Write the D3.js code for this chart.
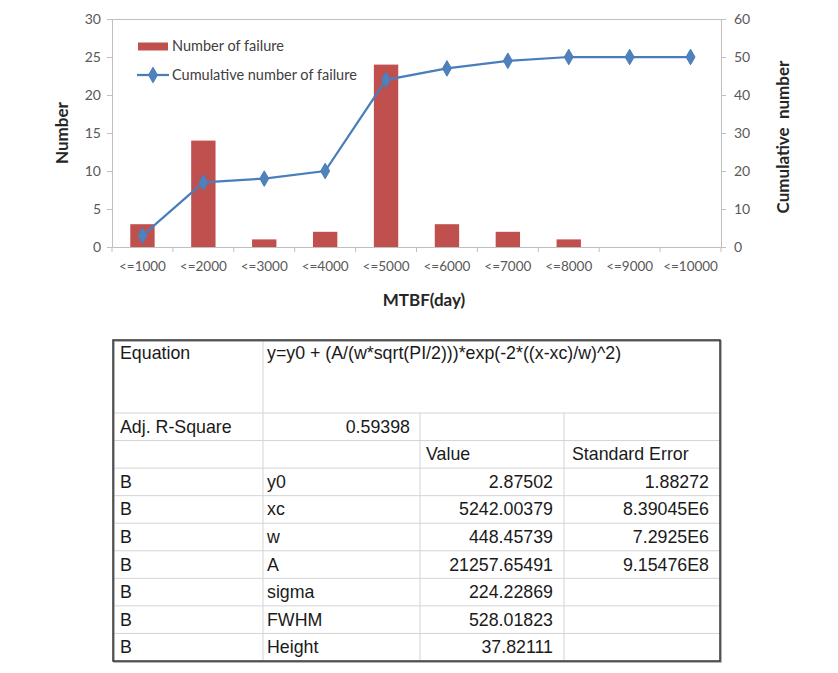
<!DOCTYPE html>
<html>
<head>
<meta charset="utf-8">
<script src="https://cdn.jsdelivr.net/npm/d3@7"></script>
<style>
  body { margin: 0; background: #fff; }
  svg { display: block; }
</style>
</head>
<body>
<svg id="chart" width="838" height="673"></svg>
<script>
// chart data
const categories = ["<=1000", "<=2000", "<=3000", "<=4000", "<=5000", "<=6000", "<=7000", "<=8000", "<=9000", "<=10000"];
const failures = [3, 14, 1, 2, 24, 3, 2, 1, 0, 0];
const cumulative = [3, 17, 18, 20, 44, 47, 49, 50, 50, 50];
const leftTicks = [0, 5, 10, 15, 20, 25, 30];
const rightTicks = [0, 10, 20, 30, 40, 50, 60];

// fit table data
const equationRow = ["Equation", "y=y0 + (A/(w*sqrt(PI/2)))*exp(-2*((x-xc)/w)^2)"];
const adjRow = ["Adj. R-Square", "0.59398", "", ""];
const headerRow = ["", "", "Value", "Standard Error"];
const paramNames = ["y0", "xc", "w", "A", "sigma", "FWHM", "Height"];
const paramValues = ["2.87502", "5242.00379", "448.45739", "21257.65491", "224.22869", "528.01823", "37.82111"];
const paramErrors = ["1.88272", "8.39045E6", "7.2925E6", "9.15476E8", "", "", ""];

document.addEventListener("DOMContentLoaded", function() {
    const svg = d3.select("#chart");
    drawChart(svg);
    drawTable(svg);

    function drawChart(svg) {
        const left = 112, right = 721, top = 19, bottom = 247;
        const axisColor = "#bfbfbf";
        const textColor = "#595959";

        const x = d3.scaleBand().domain(categories).range([left, right]);
        const yLeft = d3.scaleLinear().domain([0, 30]).range([bottom, top]);
        const yRight = d3.scaleLinear().domain([0, 60]).range([bottom, top]);

        const g = svg.append("g");

        // plot frame top line
        g.append("line")
            .attr("x1", left).attr("x2", right)
            .attr("y1", top + 0.5).attr("y2", top + 0.5)
            .attr("stroke", axisColor);

        // left axis
        const la = g.append("g")
            .attr("transform", "translate(" + left + ",0)")
            .call(d3.axisLeft(yLeft).tickValues(leftTicks).tickSize(5).tickPadding(6));
        // right axis
        const ra = g.append("g")
            .attr("transform", "translate(" + right + ",0)")
            .call(d3.axisRight(yRight).tickValues(rightTicks).tickSize(5).tickPadding(8));
        // bottom axis, ticks between categories
        const ba = g.append("g")
            .attr("transform", "translate(0," + bottom + ")")
            .call(d3.axisBottom(x).tickSize(0).tickPadding(14));
        ba.selectAll(".sep")
            .data(d3.range(categories.length + 1))
            .enter().append("line")
            .attr("class", "sep")
            .attr("x1", i => left + i * x.step()).attr("x2", i => left + i * x.step())
            .attr("y1", 0).attr("y2", 5)
            .attr("stroke", axisColor);

        [la, ra, ba].forEach(a => {
            a.select(".domain").attr("stroke", axisColor);
            a.selectAll(".tick line").attr("stroke", axisColor);
            a.selectAll("text")
                .attr("fill", textColor)
                .style("font-family", "Lato, 'Open Sans', sans-serif")
                .style("font-size", "14px");
        });
        ba.selectAll("text").style("font-size", "13.5px");

        // bars
        const barW = x.bandwidth() * 0.4;
        g.selectAll(".bar")
            .data(failures)
            .enter().append("rect")
            .attr("class", "bar")
            .attr("x", (d, i) => x(categories[i]) + (x.bandwidth() - barW) / 2)
            .attr("y", d => yLeft(d))
            .attr("width", barW)
            .attr("height", d => bottom - yLeft(d))
            .attr("fill", "#c0504d");

        // cumulative line
        const line = d3.line()
            .x((d, i) => x(categories[i]) + x.bandwidth() / 2)
            .y(d => yRight(d));
        g.append("path")
            .datum(cumulative)
            .attr("d", line)
            .attr("fill", "none")
            .attr("stroke", "#4a7ebb")
            .attr("stroke-width", 2.25);

        const diamond = d3.symbol().type(d3.symbolDiamond).size(70);
        g.selectAll(".pt")
            .data(cumulative)
            .enter().append("path")
            .attr("class", "pt")
            .attr("d", diamond)
            .attr("transform", (d, i) => "translate(" + (x(categories[i]) + x.bandwidth() / 2) + "," + yRight(d) + ")")
            .attr("fill", "#4f81bd")
            .attr("stroke", "#4a7ebb");

        // legend
        const lg = g.append("g").style("font-family", "Lato, 'Open Sans', sans-serif").style("font-size", "14.5px");
        lg.append("rect").attr("x", 138).attr("y", 42.5).attr("width", 30).attr("height", 8).attr("fill", "#c0504d");
        lg.append("text").attr("x", 172).attr("y", 51).attr("fill", "#404040").text("Number of failure");
        lg.append("line").attr("x1", 137).attr("x2", 169).attr("y1", 75).attr("y2", 75)
            .attr("stroke", "#4a7ebb").attr("stroke-width", 2.25);
        lg.append("path").attr("d", diamond).attr("transform", "translate(153,75)")
            .attr("fill", "#4f81bd").attr("stroke", "#4a7ebb");
        lg.append("text").attr("x", 172).attr("y", 80).attr("fill", "#404040").text("Cumulative number of failure");

        // axis titles
        const titleFont = "Lato, 'Open Sans', sans-serif";
        g.append("text")
            .attr("transform", "translate(68," + ((top + bottom) / 2) + ") rotate(-90)")
            .attr("text-anchor", "middle")
            .style("font-family", titleFont).style("font-size", "17px").style("font-weight", "bold")
            .attr("fill", "#262626")
            .text("Number");
        g.append("text")
            .attr("transform", "translate(789,137) rotate(-90)")
            .attr("text-anchor", "middle")
            .style("font-family", titleFont).style("font-size", "17px").style("font-weight", "bold")
            .style("white-space", "pre")
            .attr("fill", "#262626")
            .text("Cumulative  number");
        g.append("text")
            .attr("x", 424).attr("y", 306)
            .attr("text-anchor", "middle")
            .style("font-family", titleFont).style("font-size", "17px").style("font-weight", "bold")
            .attr("fill", "#262626")
            .text("MTBF(day)");
    }

    function drawTable(svg) {
        const cols = [113, 263, 420, 564, 720];
        const top = 340, eqBottom = 413, bottom = 661;
        const rowH = (bottom - eqBottom) / 9;
        const gridColor = "#d4d4d4";
        const font = "Arial, 'Liberation Sans', sans-serif";

        const t = svg.append("g")
            .style("font-family", font)
            .style("font-size", "17.8px")
            .attr("fill", "#1a1a1a");

        // rows below the equation row
        const rows = [adjRow, headerRow];
        paramNames.forEach((n, i) => rows.push(["B", n, paramValues[i], paramErrors[i]]));

        // horizontal grid lines
        t.selectAll(".hl")
            .data(d3.range(0, 9))
            .enter().append("line")
            .attr("x1", cols[0]).attr("x2", cols[4])
            .attr("y1", i => eqBottom + i * rowH).attr("y2", i => eqBottom + i * rowH)
            .attr("stroke", gridColor);
        // vertical grid lines
        t.append("line").attr("x1", cols[1]).attr("x2", cols[1]).attr("y1", top).attr("y2", bottom).attr("stroke", gridColor);
        [cols[2], cols[3]].forEach(cx => {
            t.append("line").attr("x1", cx).attr("x2", cx).attr("y1", eqBottom).attr("y2", bottom).attr("stroke", gridColor);
        });

        // outer border with slight shadow
        t.append("rect")
            .attr("x", cols[0] + 1).attr("y", top + 1)
            .attr("width", cols[4] - cols[0]).attr("height", bottom - top)
            .attr("fill", "none").attr("stroke", "#9a9a9a").attr("stroke-width", 1.5);
        t.append("rect")
            .attr("x", cols[0]).attr("y", top)
            .attr("width", cols[4] - cols[0]).attr("height", bottom - top)
            .attr("fill", "none").attr("stroke", "#333").attr("stroke-width", 1.5);

        // equation row
        t.append("text").attr("x", cols[0] + 7).attr("y", top + 19).text(equationRow[0]);
        t.append("text").attr("x", cols[1] + 4).attr("y", top + 19).text(equationRow[1]);

        // remaining rows
        rows.forEach((r, i) => {
            const y = eqBottom + i * rowH + rowH / 2 + 6;
            t.append("text").attr("x", cols[0] + 7).attr("y", y).text(r[0]);
            if (i === 0) {
                t.append("text").attr("x", cols[2] - 10).attr("y", y).attr("text-anchor", "end").text(r[1]);
            } else {
                t.append("text").attr("x", cols[1] + 4).attr("y", y).text(r[1]);
            }
            if (i === 1) {
                t.append("text").attr("x", cols[2] + 6).attr("y", y).text(r[2]);
                t.append("text").attr("x", cols[3] + 8).attr("y", y).text(r[3]);
            } else {
                t.append("text").attr("x", cols[3] - 11).attr("y", y).attr("text-anchor", "end").text(r[2]);
                t.append("text").attr("x", cols[4] - 11).attr("y", y).attr("text-anchor", "end").text(r[3]);
            }
        });
    }
});
</script>
</body>
</html>
